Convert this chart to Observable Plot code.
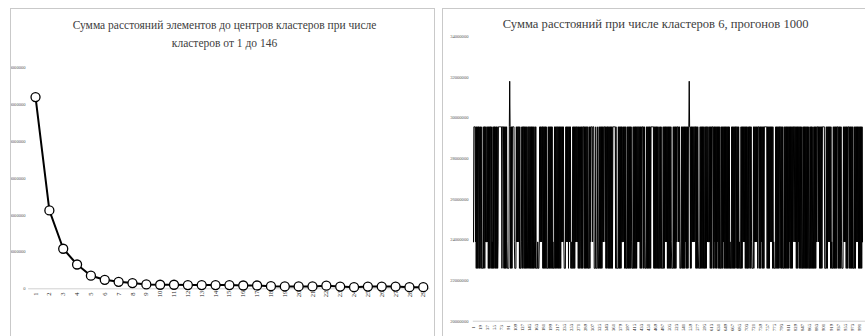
<!DOCTYPE html>
<html><head><meta charset="utf-8">
<script src="https://cdn.jsdelivr.net/npm/d3@7"></script>
<script src="https://cdn.jsdelivr.net/npm/@observablehq/plot@0.6"></script>
<style>
html,body{margin:0;padding:0;background:#fff;width:865px;height:336px;overflow:hidden;position:relative;font-family:"Liberation Serif","Times New Roman",serif;}
.panel{position:absolute;border:1px solid #c9c9c9;overflow:hidden;background:#fff;}
.panel svg{position:absolute;max-width:none !important;}
.title{position:absolute;text-align:center;color:#404040;white-space:nowrap;font-family:"Liberation Serif","Times New Roman",serif;}
</style></head><body>
<div id="p1" class="panel" style="left:10px;top:8px;width:423px;height:340px"></div>
<div id="p2" class="panel" style="left:442px;top:8px;width:430px;height:340px"></div>
<script>
// ---- Left chart data ----
const leftTitleLines = ["Сумма расстояний элементов до центров кластеров при числе", "кластеров от 1 до 146"];
const clusterCounts = [1,2,3,4,5,6,7,8,9,10,11,12,13,14,15,16,17,18,19,20,21,22,23,24,25,26,27,28,29];
const distanceSums = [520600000,212800000,108700000,66000000,35500000,24500000,19000000,15500000,12000000,11000000,11000000,10000000,10000000,10000000,10000000,9000000,9000000,7000000,6500000,6500000,6500000,8500000,6000000,4500000,6000000,6000000,6000000,4500000,4500000];
const leftYTicks = [0,100000000,200000000,300000000,400000000,500000000,600000000];

// ---- Right chart data ----
const rightTitle = "Сумма расстояний при числе кластеров 6, прогонов 1000";
// one letter per run (1000 runs)
const runLevelRows = [
 "MHHHHMHLHL","HLHHLHLMHL","HLLLLHLHHL","HMHMMHMHLH","LHLHHLHLML",
 "HLHLHHLHLH","LHLMHHHHHH","HHHLHHHHLH","LHLHLHMLLL","LLHSHLHLHL",
 "HHHHHMLLLL","HMHMHHMHLH","LLLMHLHLHH","LHLHLHLHML","HLHHLHLHLH",
 "LHLHLHLMHL","HLLLLMLLLM","HMHMHMHHLH","LHLHLHLHLL","LLHLHLHLHL",
 "HLHLMLLLHL","HLHLHHLHLH","LHLHLHMHMH","MHMLLLLHMH","MHMHLHMHMH",
 "LMLLLHLHLH","LHMHMHHMHL","HLHLMHLHLH","LHHHLHLHLH","LHHLHLLLHL",
 "HMHHHHMHHH","LLLLHLLLLH","MLLHLHLHLH","LHMHMHHHMH","LHLHHLHLHL",
 "HLHLHLHLHH","HHHHHLHLLL","LLHLHLHLHL","HMHMMHMHLH","LHLLLHLHLH",
 "LHLHLHMLLL","HLHLHLHLHL","HMHHMHMHLH","LHLHHHLHLH","MLLLHLHLHL",
 "HLHLHLHHHH","HHHLHLHLHL","HLHLHLLHLL","HLHLLLLHLH","LHMHMHMHLH",
 "LHLHLHLHML","LLLHLHLHLH","LHMHHHMHMH","LLLMHLHLHL","HLHLHMHLHL",
 "HLHHSHHLHL","HMHMHMHHMH","HLHLHLHMLL","LLHLHLHLHL","HLHLLHLHLH",
 "HMHMMHMHLH","LHLHHHLHLH","MHLHLHMHLH","LHLHLLLHLH","LHMHLHLHLH",
 "LHLHLHLHLM","LLLHLHLHLH","LHLHHHLHLH","LHLMLLLHLH","LHMHMHMHLH",
 "LHLHLLHLHH","LHLHMLLLLH","LHMHMHMHMH","LHHHLHLHLH","MHLHLHLHHH",
 "HHHHLHLHLH","LHMHMHMHLH","LMLLLLHLHL","HLHLHLHHHL","HLHLHLLLHL",
 "HLHLHLHLHL","HMHLHLHLHL","HMHHHMHMHL","HLHLHMHLHL","HLHLLLHLHL",
 "HLHLHLHLHL","HLLLHLHLHL","HLMLHLHLHL","HMHHHMHMHL","HLHLHLHHHH",
 "HHLLLLHLHL","HMHMHMHLHL","MLLLHLHLHL","HLHLHHHLHL","HLHLHMLLLL",
 "HMHMHMHLHL","HLHHHLHLHL","HLHLHLLLHL","HLHMHMHMHL","HLHLHLHLHM"
];
const levelValues = {H: 29560000, M: 23900000, L: 22600000, S: 31800000};
const rightXTicks = [1,19,37,55,73,91,109,127,145,163,181,199,217,235,253,271,289,307,325,343,361,379,397,415,433,451,469,487,505,523,541,559,577,595,613,631,649,667,685,703,721,739,757,775,793,811,829,847,865,883,901,919,937,955,973,991];
const rightYTicks = [20000000,22000000,24000000,26000000,28000000,30000000,32000000,34000000];

const svgStyle = {fontFamily: "Liberation Serif", background: "transparent", overflow: "visible", maxWidth: "none"};

// ---- Left chart ----
const leftData = clusterCounts.map((k, i) => ({k, v: distanceSums[i]}));
const p1 = document.getElementById("p1");
const t1 = document.createElement("div");
t1.className = "title";
t1.style.fontSize = "11.5px"; t1.style.lineHeight = "17.5px";
t1.style.left = (224.5 - 11 - 200) + "px"; t1.style.width = "400px"; t1.style.top = (17.3 - 9) + "px";
t1.innerHTML = leftTitleLines.join("<br>");
p1.appendChild(t1);
const left = Plot.plot({
  width: 440, height: 336,
  marginLeft: 28.1, marginRight: 10.3, marginTop: 67.3, marginBottom: 47.7,
  style: svgStyle,
  x: {type: "linear", domain: [0.5, clusterCounts.length + 0.5]},
  y: {domain: [0, 600000000]},
  marks: [
    Plot.ruleY([0], {stroke: "#d0d0d0", strokeWidth: 1}),
    Plot.axisY({ticks: leftYTicks, tickSize: 0, tickPadding: 3, tickFormat: d => String(d), fontSize: 4.6, fill: "#595959", label: null}),
    Plot.axisX({ticks: clusterCounts, tickSize: 0, tickPadding: 5.2, tickRotate: -90, textAnchor: "middle", tickFormat: d => String(d), fontSize: 6.5, fill: "#262626", label: null}),
    Plot.line(leftData, {x: "k", y: "v", stroke: "black", strokeWidth: 2}),
    Plot.dot(leftData, {x: "k", y: "v", r: 4.5, fill: "white", stroke: "black", strokeWidth: 1.3})
  ]
});
left.style.left = "-11px"; left.style.top = "-9px"; left.style.maxWidth = "none";
left.style.width = "440px"; left.style.height = "336px";
p1.appendChild(left);

// ---- Right chart ----
const runs = runLevelRows.join("").split("").map((c, i) => ({run: i + 1, v: levelValues[c]}));
const p2 = document.getElementById("p2");
const t2 = document.createElement("div");
t2.className = "title";
t2.style.fontSize = "12.6px"; t2.style.lineHeight = "17.5px";
t2.style.left = (655.7 - 443 - 200) + "px"; t2.style.width = "400px"; t2.style.top = (16.0 - 9) + "px";
t2.textContent = rightTitle;
p2.appendChild(t2);
const right = Plot.plot({
  width: 880, height: 336,
  marginLeft: 473, marginRight: 18, marginTop: 36, marginBottom: 15.3,
  style: svgStyle,
  x: {domain: [1, 1000]},
  y: {domain: [20000000, 34000000]},
  marks: [
    Plot.ruleY([20000000], {stroke: "#d0d0d0", strokeWidth: 1, x1: 0.5, x2: 1020}),
    Plot.axisY({ticks: rightYTicks, tickSize: 0, tickPadding: 5, tickFormat: d => String(d), fontSize: 4.6, fill: "#595959", label: null}),
    Plot.axisX({ticks: rightXTicks, tickSize: 0, tickPadding: 6.3, tickRotate: -90, textAnchor: "middle", tickFormat: d => String(d), fontSize: 4.8, fill: "#1a1a1a", label: null}),
    Plot.line(runs, {x: "run", y: "v", stroke: "black", strokeWidth: 1})
  ]
});
right.style.left = "-443px"; right.style.top = "-9px"; right.style.maxWidth = "none";
right.style.width = "880px"; right.style.height = "336px";
p2.appendChild(right);
</script>
</body></html>
